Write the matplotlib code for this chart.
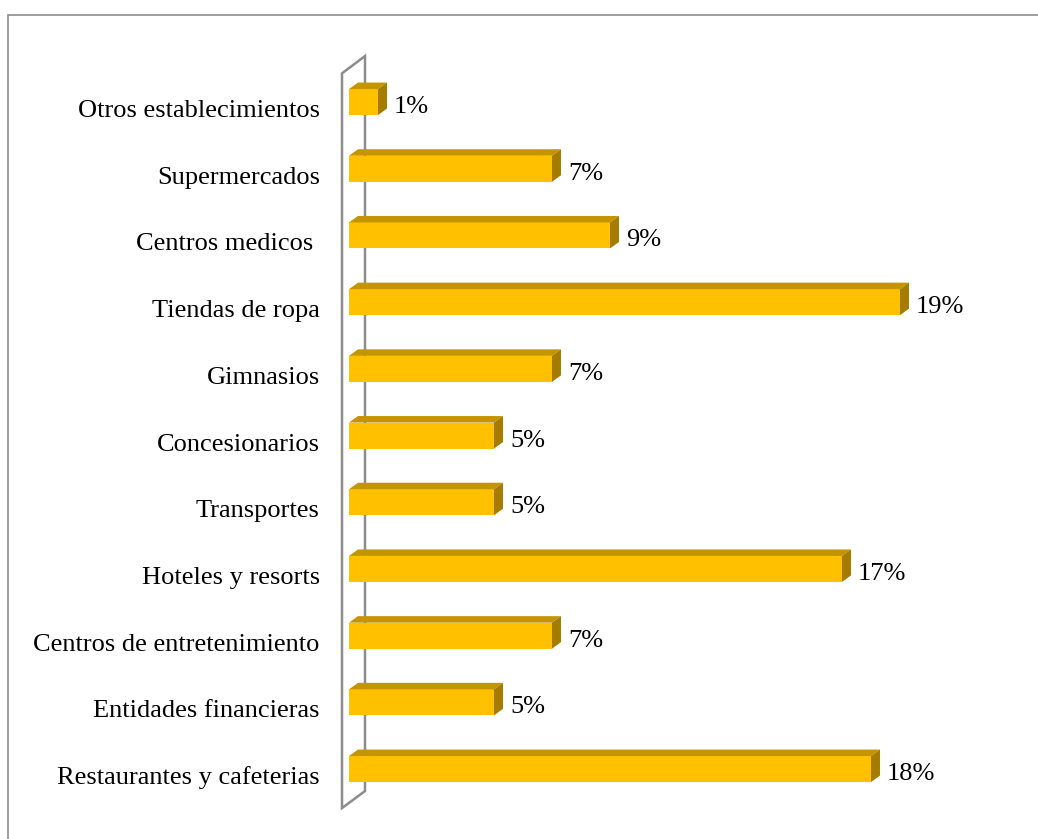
import matplotlib.pyplot as plt
from matplotlib.patches import Polygon, Rectangle
from matplotlib.transforms import ScaledTranslation

# establishment types, bottom to top
categories = ['Restaurantes y cafeterias', 'Entidades financieras',
              'Centros de entretenimiento', 'Hoteles y resorts', 'Transportes',
              'Concesionarios', 'Gimnasios', 'Tiendas de ropa',
              'Centros medicos ', 'Supermercados', 'Otros establecimientos']
shares = [18, 5, 7, 17, 5, 5, 7, 19, 9, 7, 1]

FRONT = '#FFC000'
TOP = '#C49500'
SIDE = '#A57C00'
WALL = '#8C8C8C'

plt.rcParams['font.family'] = ['Liberation Serif', 'DejaVu Serif']

W, H = 1038, 839
fig = plt.figure(figsize=(W / 100, H / 100), dpi=100)
ax = fig.add_axes([349 / W, 36.6 / H, 638 / W, 733.7 / H])
ax.set_xlim(0, 22)
ax.set_ylim(-0.5, 10.5)

# pixel -> data helpers for the 3d depth
px_x = 638 / 22
px_y = 733.7 / 11
dx, dy = 9 / px_x, 6.5 / px_y
h = 0.39

ys = list(range(len(categories)))
ax.barh(ys, shares, height=h, color=FRONT, zorder=3)
val_shift = ax.transData + ScaledTranslation(0, -11 / 100, fig.dpi_scale_trans)
for y, v in zip(ys, shares):
    top = [(0, y + h / 2), (v, y + h / 2), (v + dx, y + h / 2 + dy), (dx, y + h / 2 + dy)]
    side = [(v, y - h / 2), (v + dx, y - h / 2 + dy), (v + dx, y + h / 2 + dy), (v, y + h / 2)]
    ax.add_patch(Polygon(top, closed=True, facecolor=TOP, edgecolor='none', zorder=3))
    ax.add_patch(Polygon(side, closed=True, facecolor=SIDE, edgecolor='none', zorder=3))
    ax.text(v + dx + 7 / px_x, y, f'{v}%', va='baseline', ha='left',
            fontsize=19, zorder=4, transform=val_shift)

# side wall outline behind the bars
wx0, wx1 = -7 / px_x, 16 / px_x
wall = [(wx0, -0.585), (wx1, -0.33), (wx1, 10.69), (wx0, 10.43)]
ax.add_patch(Polygon(wall, closed=True, fill=False, edgecolor=WALL,
                     linewidth=1.8, zorder=1, clip_on=False))

ax.set_yticks(ys, categories, fontsize=19)
ax.set_xticks([])
ax.tick_params(axis='y', length=0, pad=21)
lab_shift = ScaledTranslation(0, -15 / 100, fig.dpi_scale_trans)
for lab in ax.get_yticklabels():
    lab.set_verticalalignment('baseline')
    lab.set_transform(lab.get_transform() + lab_shift)
for s in ax.spines.values():
    s.set_visible(False)

# chart area border
fig.add_artist(Rectangle((8 / W, -0.1), 1.2, 1.1 - 15 / H, transform=fig.transFigure,
                         fill=False, edgecolor=WALL, linewidth=1.2))

fig.savefig('out.png', dpi=100)
